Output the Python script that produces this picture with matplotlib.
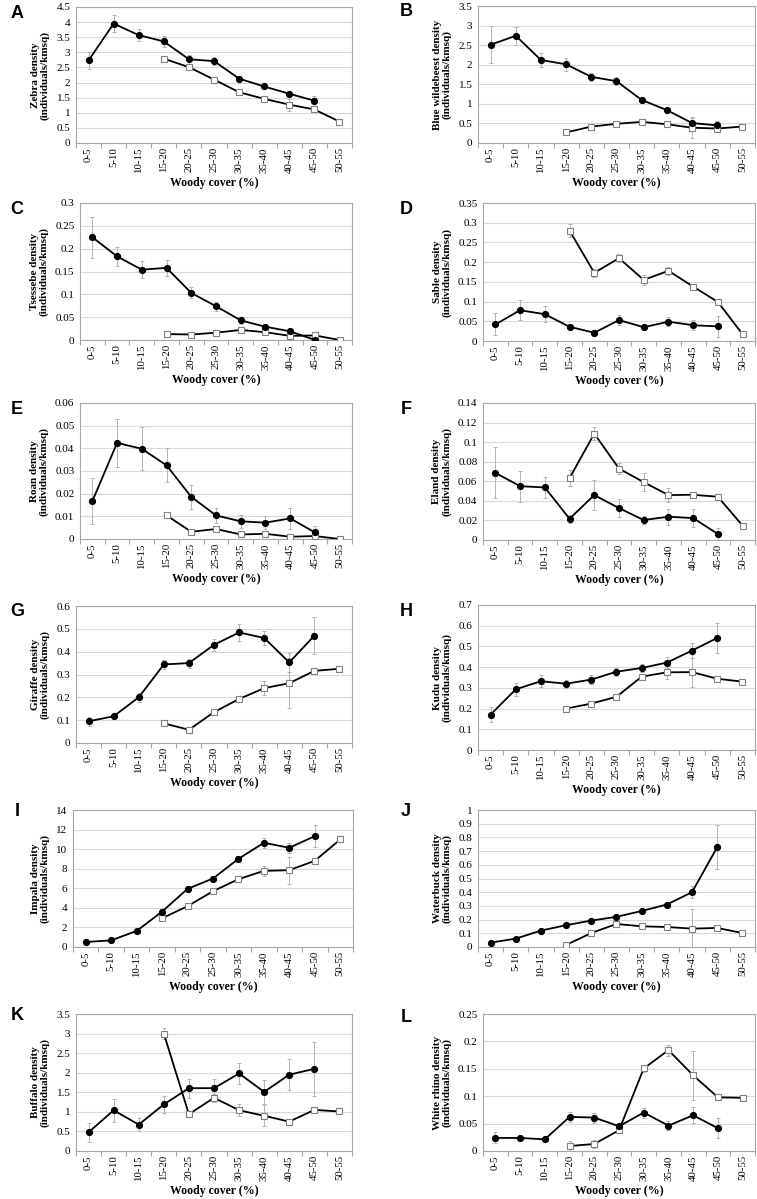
import numpy as np
import matplotlib
matplotlib.use("Agg")
import matplotlib.pyplot as plt
from matplotlib.ticker import MultipleLocator, FuncFormatter

plt.rcParams['font.family'] = ['Liberation Serif', 'DejaVu Serif']

categories = ["0-5", "5-10", "10-15", "15-20", "20-25", "25-30", "30-35",
              "35-40", "40-45", "45-50", "50-55"]
closed_idx = list(range(0, 10))   # 0-5 .. 45-50
open_idx = list(range(3, 11))     # 15-20 .. 50-55

# ---- A: Zebra ----
zebra_closed = [2.73, 3.95, 3.57, 3.36, 2.77, 2.71, 2.13, 1.87, 1.63, 1.40]
zebra_closed_err = [0.27, 0.27, 0.19, 0.18, 0.15, 0.13, 0.08, 0.08, 0.08, 0.17]
zebra_open = [2.79, 2.51, 2.10, 1.68, 1.46, 1.27, 1.11, 0.71]
zebra_open_err = [0.05, 0.05, 0.05, 0.05, 0.06, 0.20, 0.10, 0.03]

# ---- B: Blue wildebeest ----
wildebeest_closed = [2.51, 2.74, 2.12, 2.01, 1.69, 1.58, 1.10, 0.84, 0.51, 0.45]
wildebeest_closed_err = [0.47, 0.23, 0.19, 0.16, 0.10, 0.10, 0.06, 0.06, 0.15, 0.10]
wildebeest_open = [0.27, 0.42, 0.49, 0.54, 0.48, 0.39, 0.37, 0.42]
wildebeest_open_err = [0.03, 0.04, 0.04, 0.05, 0.05, 0.25, 0.05, 0.02]

# ---- C: Tsessebe ----
tsessebe_closed = [0.225, 0.183, 0.154, 0.158, 0.103, 0.074, 0.043, 0.029, 0.019, 0.0]
tsessebe_closed_err = [0.045, 0.021, 0.018, 0.018, 0.012, 0.010, 0.007, 0.005, 0.004, 0.0]
tsessebe_open = [0.013, 0.012, 0.016, 0.022, 0.017, 0.009, 0.010, 0.0]
tsessebe_open_err = [0.003, 0.002, 0.003, 0.004, 0.004, 0.003, 0.003, 0.0]

# ---- D: Sable ----
sable_closed = [0.042, 0.078, 0.068, 0.036, 0.021, 0.053, 0.035, 0.049, 0.040, 0.037]
sable_closed_err = [0.028, 0.025, 0.020, 0.005, 0.003, 0.012, 0.008, 0.012, 0.012, 0.026]
sable_open = [0.280, 0.173, 0.210, 0.155, 0.178, 0.138, 0.099, 0.017]
sable_open_err = [0.016, 0.010, 0.010, 0.012, 0.010, 0.004, 0.004, 0.002]

# ---- E: Roan ----
roan_closed = [0.0167, 0.0424, 0.0398, 0.0325, 0.0186, 0.0104, 0.0078, 0.0072, 0.0091, 0.0029]
roan_closed_err = [0.0100, 0.0106, 0.0094, 0.0075, 0.0053, 0.0033, 0.0028, 0.0028, 0.0047, 0.0030]
roan_open = [0.0104, 0.0032, 0.0044, 0.0020, 0.0023, 0.0010, 0.0013, 0.0]
roan_open_err = [0.0008, 0.0006, 0.0006, 0.0005, 0.0005, 0.0004, 0.0004, 0.0]

# ---- F: Eland ----
eland_closed = [0.0686, 0.0550, 0.0537, 0.0217, 0.0459, 0.0326, 0.0204, 0.0238, 0.0224, 0.0061]
eland_closed_err = [0.026, 0.016, 0.011, 0.004, 0.015, 0.009, 0.004, 0.008, 0.009, 0.006]
eland_open = [0.0632, 0.1087, 0.0730, 0.0591, 0.0459, 0.0462, 0.0442, 0.0146]
eland_open_err = [0.008, 0.007, 0.006, 0.009, 0.007, 0.002, 0.002, 0.001]

# ---- G: Giraffe ----
giraffe_closed = [0.095, 0.117, 0.200, 0.344, 0.350, 0.430, 0.484, 0.460, 0.353, 0.470]
giraffe_closed_err = [0.020, 0.010, 0.020, 0.020, 0.020, 0.025, 0.036, 0.030, 0.040, 0.082]
giraffe_open = [0.086, 0.058, 0.135, 0.193, 0.240, 0.262, 0.316, 0.325]
giraffe_open_err = [0.008, 0.006, 0.010, 0.012, 0.030, 0.110, 0.010, 0.005]

# ---- H: Kudu ----
kudu_closed = [0.171, 0.293, 0.332, 0.320, 0.340, 0.378, 0.396, 0.422, 0.480, 0.541]
kudu_closed_err = [0.037, 0.030, 0.030, 0.020, 0.020, 0.020, 0.020, 0.025, 0.036, 0.072]
kudu_open = [0.200, 0.224, 0.257, 0.354, 0.375, 0.376, 0.344, 0.330]
kudu_open_err = [0.008, 0.010, 0.012, 0.015, 0.030, 0.070, 0.008, 0.005]

# ---- I: Impala ----
impala_closed = [0.51, 0.68, 1.64, 3.62, 5.94, 7.00, 9.01, 10.65, 10.14, 11.33]
impala_closed_err = [0.10, 0.10, 0.15, 0.30, 0.30, 0.30, 0.30, 0.50, 0.50, 1.15]
impala_open = [2.94, 4.17, 5.70, 6.93, 7.78, 7.85, 8.81, 10.99]
impala_open_err = [0.20, 0.20, 0.25, 0.25, 0.50, 1.37, 0.20, 0.10]

# ---- J: Waterbuck ----
waterbuck_closed = [0.032, 0.061, 0.120, 0.159, 0.193, 0.220, 0.263, 0.310, 0.400, 0.729]
waterbuck_closed_err = [0.005, 0.008, 0.010, 0.012, 0.012, 0.012, 0.015, 0.020, 0.045, 0.158]
waterbuck_open = [0.015, 0.102, 0.168, 0.151, 0.146, 0.134, 0.139, 0.102]
waterbuck_open_err = [0.004, 0.008, 0.010, 0.010, 0.010, 0.145, 0.008, 0.004]

# ---- K: Buffalo ----
buffalo_closed = [0.478, 1.04, 0.675, 1.19, 1.605, 1.605, 1.98, 1.51, 1.95, 2.10]
buffalo_closed_err = [0.25, 0.30, 0.16, 0.22, 0.24, 0.24, 0.28, 0.30, 0.40, 0.69]
buffalo_open = [3.00, 0.94, 1.36, 1.04, 0.90, 0.75, 1.05, 1.01]
buffalo_open_err = [0.13, 0.05, 0.10, 0.15, 0.27, 0.04, 0.04, 0.02]

# ---- L: White rhino ----
rhino_closed = [0.0238, 0.0238, 0.0213, 0.0622, 0.0610, 0.0451, 0.0701, 0.0463, 0.0652, 0.0415]
rhino_closed_err = [0.010, 0.004, 0.003, 0.009, 0.009, 0.004, 0.009, 0.008, 0.015, 0.018]
rhino_open = [0.0091, 0.0128, 0.0378, 0.1506, 0.1840, 0.1380, 0.0980, 0.0970]
rhino_open_err = [0.009, 0.008, 0.004, 0.006, 0.010, 0.045, 0.003, 0.002]

panels = [
    ("A", "Zebra density", zebra_closed, zebra_closed_err, zebra_open, zebra_open_err, 4.5, 0.5),
    ("B", "Blue wildebeest density", wildebeest_closed, wildebeest_closed_err, wildebeest_open, wildebeest_open_err, 3.5, 0.5),
    ("C", "Tsessebe density", tsessebe_closed, tsessebe_closed_err, tsessebe_open, tsessebe_open_err, 0.3, 0.05),
    ("D", "Sable density", sable_closed, sable_closed_err, sable_open, sable_open_err, 0.35, 0.05),
    ("E", "Roan density", roan_closed, roan_closed_err, roan_open, roan_open_err, 0.06, 0.01),
    ("F", "Eland density", eland_closed, eland_closed_err, eland_open, eland_open_err, 0.14, 0.02),
    ("G", "Giraffe density", giraffe_closed, giraffe_closed_err, giraffe_open, giraffe_open_err, 0.6, 0.1),
    ("H", "Kudu density", kudu_closed, kudu_closed_err, kudu_open, kudu_open_err, 0.7, 0.1),
    ("I", "Impala density", impala_closed, impala_closed_err, impala_open, impala_open_err, 14, 2),
    ("J", "Waterbuck density", waterbuck_closed, waterbuck_closed_err, waterbuck_open, waterbuck_open_err, 1.0, 0.1),
    ("K", "Buffalo density", buffalo_closed, buffalo_closed_err, buffalo_open, buffalo_open_err, 3.5, 0.5),
    ("L", "White rhino density", rhino_closed, rhino_closed_err, rhino_open, rhino_open_err, 0.25, 0.05),
]

# axes boxes in pixels: left, right, top, bottom
boxes = [
    (76, 352, 7, 143), (478, 755, 6, 143),
    (80, 352, 203, 340), (483, 755, 203, 341),
    (80, 352, 403, 539), (483, 755, 403, 540),
    (76, 352, 606, 743), (478, 755, 605, 750),
    (73, 353, 810, 947), (478, 755, 810, 947),
    (76, 352, 1014, 1151), (483, 755, 1014, 1151),
]
letter_pos = [(17, 14), (406, 12), (17, 210), (406, 210), (17, 410), (406, 410),
              (17, 612), (406, 612), (17, 812), (406, 812), (17, 1015), (406, 1017)]

W, H = 757, 1199
fig = plt.figure(figsize=(W / 100, H / 100), dpi=100)

grid_c = "#d9d9d9"
spine_c = "#a6a6a6"
err_c = "#b3b3b3"

def fmt(v, pos):
    return f"{round(v, 6):g}"

for (letter, name, cl, cle, op, ope, ymax, step), (l, r, t, b), (lx, ly) in zip(panels, boxes, letter_pos):
    ax = fig.add_axes([l / W, 1 - b / H, (r - l) / W, (b - t) / H])
    x_cl = np.array(closed_idx)
    x_op = np.array(open_idx)
    ax.errorbar(x_op, op, yerr=ope, fmt="none", ecolor=err_c, elinewidth=0.7,
                capsize=1.5, capthick=0.7, zorder=2)
    ax.errorbar(x_cl, cl, yerr=cle, fmt="none", ecolor=err_c, elinewidth=0.7,
                capsize=1.5, capthick=0.7, zorder=2)
    ax.plot(x_op, op, color="black", lw=1.3, marker="s", ms=4.0,
            mfc="white", mec="#808080", mew=0.8, zorder=3)
    ax.plot(x_cl, cl, color="black", lw=1.3, marker="o", ms=4.2,
            mfc="black", mec="black", zorder=4)
    ax.set_xlim(-0.5, 10.5)
    ax.set_ylim(0, ymax)
    ax.yaxis.set_major_locator(MultipleLocator(step))
    ax.yaxis.set_major_formatter(FuncFormatter(fmt))
    ax.set_xticks(range(len(categories)))
    ax.set_xticklabels(categories, rotation=90, fontsize=7.8)
    ax.set_xticks(np.arange(-0.5, 11, 1), minor=True)
    ax.tick_params(axis="x", which="major", length=0, pad=3)
    ax.tick_params(axis="x", which="minor", length=3.5, color=spine_c, width=0.8)
    ax.tick_params(axis="y", length=0, pad=4, labelsize=8)
    ax.grid(axis="y", color=grid_c, lw=0.8)
    ax.set_axisbelow(True)
    for s in ax.spines.values():
        s.set_color(spine_c)
        s.set_linewidth(0.8)
    ax.set_ylabel(name + "\n(individuals/kmsq)", fontsize=8, fontweight="bold",
                  labelpad=5, linespacing=1.0)
    ax.set_xlabel("Woody cover (%)", fontsize=8.5, fontweight="bold", labelpad=3)
    fig.text(lx / W, 1 - ly / H, letter, fontsize=13, fontweight="bold",
             family="Liberation Sans", ha="center", va="center")

fig.savefig("out.png", dpi=100)
